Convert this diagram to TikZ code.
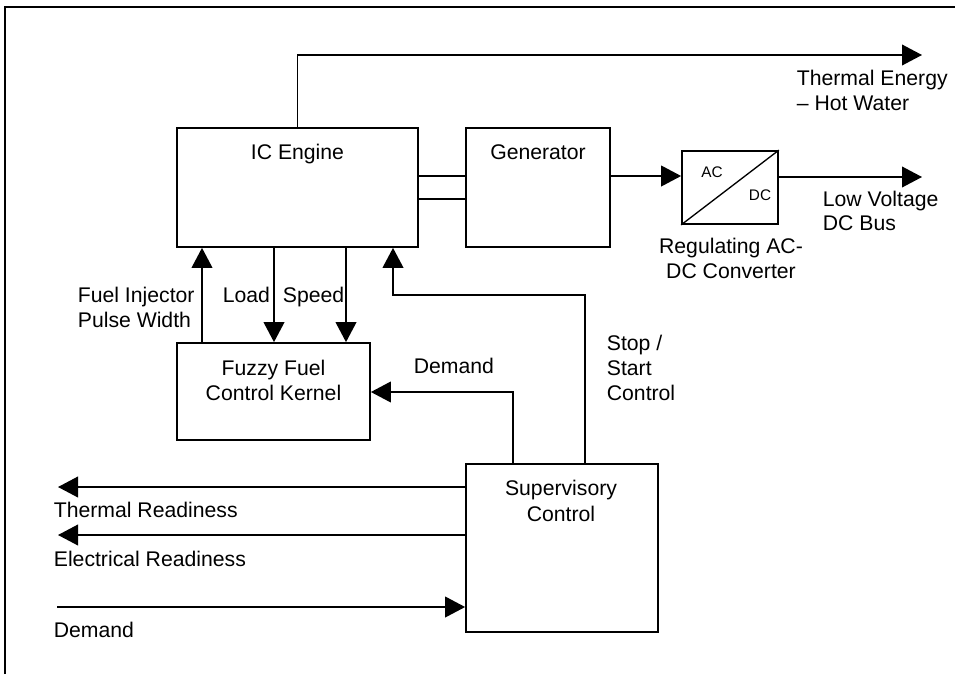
\documentclass[tikz,border=0pt]{standalone}
\usepackage{fontspec}
\setmainfont{Liberation Sans}
\usetikzlibrary{arrows.meta,fit}
\begin{document}
\begin{tikzpicture}[x=0.75pt,y=-0.75pt,
  line width=1.3pt,
  block/.style={draw, line width=1.3pt, inner sep=0pt},
  lbl/.style={font=\fontsize{15.9}{18.4}\selectfont, inner sep=0pt, anchor=base west},
  clbl/.style={font=\fontsize{15.9}{18.4}\selectfont, inner sep=0pt, anchor=base},
  tiny/.style={font=\fontsize{11.5}{13}\selectfont, inner sep=0pt, anchor=base},
  arr/.style={-{Triangle[length=15pt,width=15.5pt]}}]

% canvas and frame
\fill[white] (0,0) rectangle (955,674);
\useasboundingbox (0,0) rectangle (955,674);
\draw[line width=1pt] (5,674) -- (5,7) -- (955,7);

% corner points of the blocks
\coordinate (iceA) at (177,128);   \coordinate (iceB) at (418,247);
\coordinate (genA) at (466,128);   \coordinate (genB) at (610,247);
\coordinate (convA) at (682,151);  \coordinate (convB) at (778,224);
\coordinate (fuzA) at (177,343);   \coordinate (fuzB) at (370,440);
\coordinate (supA) at (466,464);   \coordinate (supB) at (658,632);

% blocks
\node[block, fit=(iceA) (iceB)] (ice) {};
\node[block, fit=(genA) (genB)] (gen) {};
\node[block, fit=(convA) (convB)] (conv) {};
\node[block, fit=(fuzA) (fuzB)] (fuzzy) {};
\node[block, fit=(supA) (supB)] (sup) {};
\draw[line width=1pt] (conv.south west) -- (conv.north east);

% block texts
\node[clbl] (icetxt) at (297.5,159) {IC Engine};
\node[clbl] (gentxt) at (538,159) {Generator};
\node[tiny] (actxt) at (712,177) {AC};
\node[tiny] (dctxt) at (760,200.5) {DC};
\node[clbl] (fuzzyA) at (273.5,375) {Fuzzy Fuel};
\node[clbl] (fuzzyB) at (273.5,400) {Control Kernel};
\node[clbl] (supTa) at (561,495.5) {Supervisory};
\node[clbl] (supTb) at (561,521) {Control};

% helper coordinates
\coordinate (yA) at (0,176);
\coordinate (yB) at (0,199);
\coordinate (thermOut) at (922,55);
\coordinate (dcOut) at (922,177);
\coordinate (xFuel) at (202,0);
\coordinate (xLoad) at (274,0);
\coordinate (xSpeed) at (346,0);
\coordinate (ssBend) at (585,295);
\coordinate (ssUp) at (393,295);
\coordinate (dmBend) at (513,392);
\coordinate (thReady) at (58,487);
\coordinate (elReady) at (58,535);
\coordinate (dmIn) at (57,607);

% engine to generator shaft
\draw (ice.east |- yA) -- (gen.west |- yA);
\draw (ice.east |- yB) -- (gen.west |- yB);

% energy paths
\draw[arr] (ice.north) |- (thermOut);
\draw[arr] (gen.east |- yA) -- (conv.west |- yA);
\draw[arr] (conv.east |- dcOut) -- (dcOut);

% fuel control loop
\draw[arr] (fuzzy.north -| xFuel) -- (ice.south -| xFuel);
\draw[arr] (ice.south -| xLoad) -- (fuzzy.north -| xLoad);
\draw[arr] (ice.south -| xSpeed) -- (fuzzy.north -| xSpeed);

% supervisory signals
\draw[arr] (sup.north -| ssBend) -- (ssBend) -- (ssUp) -- (ice.south -| ssUp);
\draw[arr] (sup.north -| dmBend) -- (dmBend) -- (fuzzy.east |- dmBend);
\draw[arr] (sup.west |- thReady) -- (thReady);
\draw[arr] (sup.west |- elReady) -- (elReady);
\draw[arr] (dmIn) -- (sup.west |- dmIn);

% labels
\node[lbl] (thA) at (796,85) {Thermal Energy};
\node[lbl] (thB) at (796,110) {– Hot Water};
\node[lbl] (lvA) at (822,206) {Low Voltage};
\node[lbl] (lvB) at (822,230.5) {DC Bus};
\node[clbl] (rgA) at (731,253) {Regulating AC-};
\node[clbl] (rgB) at (731,278) {DC Converter};
\node[lbl] (fiA) at (77,302.5) {Fuel Injector};
\node[lbl] (fiB) at (77,327) {Pulse Width};
\node[lbl] (loadtxt) at (222,302.5) {Load};
\node[lbl] (speedtxt) at (282,302.5) {Speed};
\node[lbl] (dmtxt) at (413,373.5) {Demand};
\node[lbl] (ssA) at (606,350) {Stop /};
\node[lbl] (ssB) at (606,375.5) {Start};
\node[lbl] (ssC) at (606,400) {Control};
\node[lbl] (trtxt) at (53,517) {Thermal Readiness};
\node[lbl] (ertxt) at (53,566) {Electrical Readiness};
\node[lbl] (dintxt) at (53,637.5) {Demand};
\end{tikzpicture}
\end{document}
